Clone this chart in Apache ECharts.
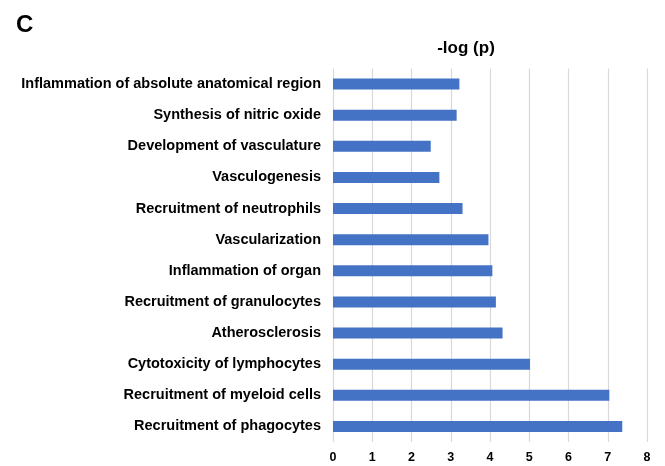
<!DOCTYPE html>
<html><head><meta charset="utf-8">
<script src="https://cdn.jsdelivr.net/npm/echarts@6/dist/echarts.min.js"></script>
<style>html,body{margin:0;padding:0;background:#fff}#c{width:665px;height:466px}</style>
</head><body><div id="c"></div>
<script>
const categories = [
  "Inflammation of absolute anatomical region",
  "Synthesis of nitric oxide",
  "Development of vasculature",
  "Vasculogenesis",
  "Recruitment of neutrophils",
  "Vascularization",
  "Inflammation of organ",
  "Recruitment of granulocytes",
  "Atherosclerosis",
  "Cytotoxicity of lymphocytes",
  "Recruitment of myeloid cells",
  "Recruitment of phagocytes"
];
const logP = [3.22, 3.15, 2.49, 2.71, 3.30, 3.96, 4.06, 4.15, 4.32, 5.02, 7.04, 7.37];
const xTicks = [0, 1, 2, 3, 4, 5, 6, 7, 8];

const chart = echarts.init(document.getElementById('c'), null, {renderer: 'canvas'});
const font = '"Liberation Sans", Arial, sans-serif';
chart.setOption({
  animation: false,
  title: [
    {text: 'C', left: 11, top: 8, textStyle: {fontFamily: font, fontWeight: 'bold', fontSize: 24, color: '#000'}},
    {text: '-log (p)', left: 461, top: 35, textAlign: 'center', textStyle: {fontFamily: font, fontWeight: 'bold', fontSize: 17, color: '#000'}}
  ],
  grid: {left: 333, right: 18, top: 68.5, bottom: 24, containLabel: false},
  xAxis: {
    type: 'value', min: xTicks[0], max: xTicks[xTicks.length - 1], interval: 1,
    axisLine: {show: false}, axisTick: {show: false},
    splitLine: {show: true, lineStyle: {color: '#d9d9d9', width: 1.2}},
    axisLabel: {margin: 9, fontFamily: font, fontWeight: 'bold', fontSize: 12.5, color: '#000'}
  },
  yAxis: {
    type: 'category', data: categories, inverse: true,
    axisLine: {show: false}, axisTick: {show: false},
    axisLabel: {margin: 12, fontFamily: font, fontWeight: 'bold', fontSize: 14.5, color: '#000'}
  },
  series: [{
    type: 'bar', data: logP, barWidth: 11,
    itemStyle: {color: '#4472C4'}
  }]
});
</script></body></html>
